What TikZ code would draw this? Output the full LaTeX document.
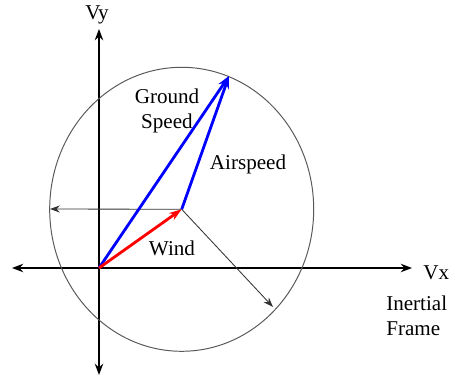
\documentclass[tikz,border=0pt]{standalone}
\usepackage{fontspec}
\setmainfont{Liberation Serif}
\usetikzlibrary{arrows.meta,positioning,calc}

\begin{document}
\begin{tikzpicture}[
  x=0.025cm, y=0.025cm,
  axis/.style={{Stealth[length=8pt,width=6pt]}-{Stealth[length=8pt,width=6pt]}, line width=1.4pt},
  vec/.style={-{Stealth[length=9pt,width=6pt]}, line width=2pt},
  thin arr/.style={-{Stealth[length=7pt,width=5pt]}, line width=0.6pt, black!80},
  label/.style={font=\rmfamily\fontsize{15}{17.5}\selectfont, inner sep=0pt}
]
\useasboundingbox (-99,-111) rectangle (350,268);

% frame
\coordinate (O) at (0,0);
\coordinate (ytop) at (0,239);
\coordinate (ybot) at (0,-107);
\coordinate (xleft) at (-87,0);
\coordinate (xright) at (313,0);
\draw[axis] (ybot) -- (ytop);
\draw[axis] (xleft) -- (xright);

% wind tip and airspeed circle
\coordinate (C) at (82.7,58.7);
\coordinate (G) at (130,192);
\draw[gray!70!black, line width=0.7pt] (C) ellipse [x radius=132, y radius=142];

\coordinate (L) at (-49,59);
\coordinate (D) at (174,-39);
\draw[thin arr] (C) -- (L);
\draw[thin arr] (C) -- (D);

\draw[vec, blue] (O) -- (G);
\draw[vec, blue] (C) -- (G);
\draw[vec, red] (O) -- (C);

% labels
\node[label] (vy) at (-2,253) {Vy};
\node[label, anchor=west] (vx) at (324,-5) {Vx};
\node[label, align=left, anchor=west] (frame) at (287,-48) {Inertial\\Frame};
\node[label, align=center] (gs) at (68,157) {Ground\\Speed};
\node[label] (as) at (149,104) {Airspeed};
\node[label] (wind) at (73,20) {Wind};

\end{tikzpicture}
\end{document}
